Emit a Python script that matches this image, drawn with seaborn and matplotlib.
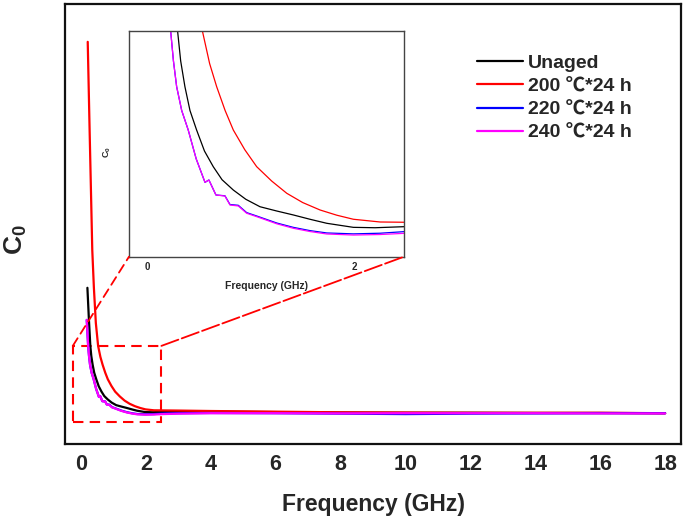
import matplotlib
matplotlib.use("Agg")
import matplotlib.pyplot as plt
from matplotlib.patches import Rectangle, ConnectionPatch
import pandas as pd
import seaborn as sns

# values (arbitrary C0 units, frequency in GHz)
labels = ["Unaged", "200 ℃*24 h", "220 ℃*24 h", "240 ℃*24 h"]
colors = ["#000000", "#ff0000", "#0000ff", "#ff00ff"]

freq_unaged = [0.20, 0.245, 0.29, 0.32, 0.361, 0.41, 0.474, 0.55, 0.635, 0.72, 0.829, 0.95,
               1.087, 1.25, 1.409, 1.57, 1.733, 1.99, 2.2, 2.48, 3, 4, 6, 8, 10, 12, 14, 16, 18]
c0_unaged = [3.55, 2.85, 2.23, 2.0, 1.803, 1.62, 1.471, 1.31, 1.19, 1.09, 1.011, 0.94,
             0.883, 0.85, 0.82, 0.787, 0.756, 0.725, 0.722, 0.73, 0.735, 0.735, 0.725, 0.715,
             0.71, 0.71, 0.705, 0.705, 0.70]

freq_200 = [0.21, 0.27, 0.35, 0.40, 0.46, 0.53, 0.60, 0.668, 0.75, 0.829, 0.94, 1.055, 1.2,
            1.346, 1.5, 1.668, 1.83, 1.99, 2.249, 2.48, 3, 4, 6, 8, 10, 12, 14, 16, 18]
c0_200 = [9.14, 7.07, 4.41, 3.55, 2.75, 2.23, 1.98, 1.803, 1.62, 1.471, 1.32, 1.19, 1.08,
          0.986, 0.915, 0.858, 0.818, 0.787, 0.766, 0.764, 0.76, 0.75, 0.735, 0.72, 0.715,
          0.71, 0.71, 0.71, 0.70]

freq_220 = [0.18, 0.223, 0.25, 0.281, 0.33, 0.393, 0.47, 0.555, 0.593, 0.661, 0.748, 0.797,
            0.877, 0.958, 1.055, 1.25, 1.409, 1.57, 1.733, 1.99, 2.25, 2.48, 3, 4, 6, 8, 10,
            12, 14, 16, 18]
c0_220 = [2.82, 2.23, 2.0, 1.803, 1.62, 1.471, 1.25, 1.07, 1.088, 0.973, 0.967, 0.90,
          0.894, 0.838, 0.812, 0.758, 0.725, 0.70, 0.682, 0.675, 0.68, 0.692, 0.70, 0.705,
          0.70, 0.69, 0.68, 0.69, 0.695, 0.70, 0.70]

freq_240 = [0.18, 0.223, 0.25, 0.281, 0.33, 0.393, 0.47, 0.555, 0.593, 0.661, 0.748, 0.797,
            0.877, 0.958, 1.055, 1.25, 1.409, 1.57, 1.733, 1.99, 2.25, 2.48, 3, 4, 6, 8, 10,
            12, 14, 16, 18]
c0_240 = [2.82, 2.23, 2.0, 1.803, 1.62, 1.471, 1.25, 1.07, 1.088, 0.973, 0.965, 0.896,
          0.889, 0.833, 0.807, 0.752, 0.718, 0.693, 0.674, 0.666, 0.67, 0.679, 0.69, 0.70,
          0.70, 0.695, 0.70, 0.70, 0.70, 0.695, 0.695]

frames = []
for lab, f, c in zip(labels, [freq_unaged, freq_200, freq_220, freq_240],
                     [c0_unaged, c0_200, c0_220, c0_240]):
    frames.append(pd.DataFrame({"freq": f, "c0": c, "sample": lab}))
df = pd.concat(frames, ignore_index=True)

sns.set_style("white")
plt.rcParams["font.family"] = ["Liberation Sans", "Noto Sans CJK SC", "DejaVu Sans"]
plt.rcParams["font.weight"] = "bold"
plt.rcParams["mathtext.fontset"] = "custom"
plt.rcParams["mathtext.rm"] = "Liberation Sans"
plt.rcParams["mathtext.bf"] = "Liberation Sans:bold"

fig = plt.figure(figsize=(6.85, 5.19), dpi=100)
ax = fig.add_axes([0.0949, 0.1445, 0.8993, 0.8478])

sns.lineplot(data=df, x="freq", y="c0", hue="sample", hue_order=labels, palette=colors,
             estimator=None, sort=False, linewidth=1.6, ax=ax)

ax.set_xlim(-0.49, 18.49)
ax.set_ylim(0, 10)
ax.set_xticks(range(0, 19, 2))
ax.set_yticks([])
ax.tick_params(axis="x", direction="in", length=6, width=1.5, labelsize=15.5, pad=7)
for s in ax.spines.values():
    s.set_linewidth(1.6)
    s.set_color("#111111")
ax.set_xlabel("Frequency (GHz)", fontsize=16.5, fontweight="bold", labelpad=13)
ax.set_ylabel(r"$\mathbf{C_0}$", fontsize=19)
ax.yaxis.set_label_coords(-0.058, 0.464)

h, l = ax.get_legend_handles_labels()
ax.legend(h, l, loc="upper left", bbox_to_anchor=(0.696, 0.896), bbox_transform=fig.transFigure,
          frameon=False, prop={"weight": "bold", "size": 14}, handlelength=2.4,
          handletextpad=0.25, labelspacing=0.3, borderpad=0, borderaxespad=0)

# zoom box on the main axes
ax.add_patch(Rectangle((-0.25, 0.5), 2.73, 1.73, fill=False, edgecolor="#ff0000",
                       linestyle=(0, (5, 3)), linewidth=1.5))

# inset
axins = fig.add_axes([0.1883, 0.5054, 0.4015, 0.4349])
sns.lineplot(data=df, x="freq", y="c0", hue="sample", hue_order=labels, palette=colors,
             estimator=None, sort=False, linewidth=0.9, legend=False, ax=axins)
axins.set_xlim(-0.18, 2.48)
axins.set_ylim(0.5, 2.23)
axins.set_xticks([0, 2])
axins.set_yticks([])
axins.tick_params(axis="x", direction="in", length=3, width=0.8, labelsize=7, pad=4)
for s in axins.spines.values():
    s.set_linewidth(1.0)
    s.set_color("#444444")
axins.set_xlabel("Frequency (GHz)", fontsize=7.5, fontweight="bold", labelpad=6)
axins.set_ylabel(r"$\mathbf{C_0}$", fontsize=6.5)
axins.yaxis.set_label_coords(-0.058, 0.465)

con1 = ConnectionPatch(xyA=(-0.25, 2.23), coordsA=ax.transData, xyB=(0, 0),
                       coordsB=axins.transAxes, color="#ff0000", linewidth=1.3,
                       linestyle=(0, (5, 3)))
con2 = ConnectionPatch(xyA=(2.48, 2.23), coordsA=ax.transData, xyB=(1, 0),
                       coordsB=axins.transAxes, color="#ff0000", linewidth=1.3,
                       linestyle=(0, (10, 2)))
fig.add_artist(con1)
fig.add_artist(con2)

fig.savefig("out.png", dpi=100)
